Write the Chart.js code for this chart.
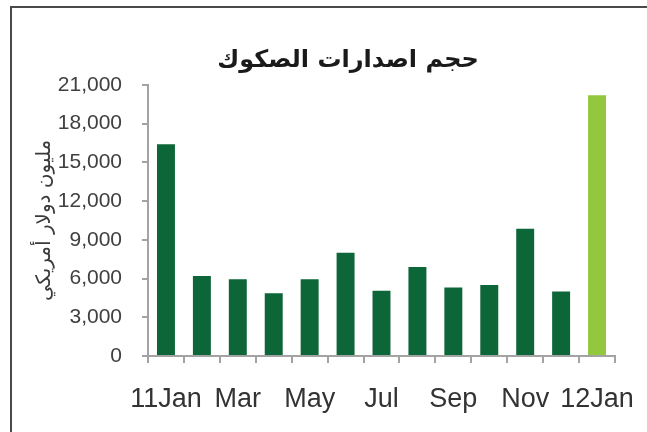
<!DOCTYPE html>
<html><head><meta charset="utf-8">
<script src="https://cdn.jsdelivr.net/npm/chart.js@4"></script>
<style>
html,body{margin:0;padding:0;background:#fff;}
#wrap{position:relative;width:647px;height:432px;overflow:hidden;background:#fff;}
#frame{position:absolute;left:10px;top:6px;right:-10px;bottom:-10px;border-left:2px solid #4a4a4a;border-top:2px solid #4a4a4a;}
canvas{position:absolute;left:0;top:0;}
</style></head><body>
<div id="wrap"><div id="frame"></div><canvas id="c" width="647" height="432"></canvas></div>
<script>
const chartTitle = 'حجم اصدارات الصكوك';
const yAxisTitle = 'مليون دولار أمريكي';
const months = ['11Jan','Feb','Mar','Apr','May','Jun','Jul','Aug','Sep','Oct','Nov','Dec','12Jan'];
const issuance = [16400, 6200, 5950, 4850, 5950, 8000, 5050, 6900, 5300, 5500, 9850, 5000, 20200];
const yMin = 0, yMax = 21000, yStep = 3000;

const darkGreen = '#0d6638';
const lightGreen = '#93c83e';
const axisGray = '#a3a3a3';

new Chart(document.getElementById('c'), {
  type: 'bar',
  data: {
    labels: months,
    datasets: [{
      data: issuance,
      yAxisID: 'y',
      backgroundColor: (ctx) => ctx.dataIndex === issuance.length - 1 ? lightGreen : darkGreen,
      categoryPercentage: 1,
      barPercentage: 0.5,
      borderWidth: 0
    }]
  },
  options: {
    responsive: false,
    devicePixelRatio: 1,
    animation: false,
    layout: { padding: { left: 50, right: 1, top: 0, bottom: 0 } },
    plugins: {
      legend: { display: false },
      tooltip: { enabled: false },
      title: {
        display: true,
        text: chartTitle,
        color: '#1a1a1a',
        font: { family: 'DejaVu Sans', size: 24, weight: 'bold' },
        padding: { top: 46, bottom: 10 }
      }
    },
    scales: {
      x: {
        offset: true,
        afterFit: (scale) => { scale.height = 76; },
        grid: { display: true, drawOnChartArea: false, drawTicks: true, tickLength: 7, color: axisGray, lineWidth: 2, offset: true },
        border: { display: true, color: axisGray, width: 2 },
        ticks: {
          autoSkip: false,
          maxRotation: 0,
          minRotation: 0,
          padding: 10,
          color: '#333333',
          font: { family: 'Liberation Sans', size: 27, lineHeight: 2 },
          callback: (v, i) => (i % 2 === 0 ? months[i] : '')
        }
      },
      y: {
        position: 'left',
        min: yMin,
        max: yMax,
        afterFit: (scale) => { scale.width = 98; },
        grid: { display: true, drawOnChartArea: false, drawTicks: true, tickLength: 6, color: axisGray, lineWidth: 2 },
        border: { display: true, color: axisGray, width: 2 },
        ticks: {
          stepSize: yStep,
          padding: 20,
          color: '#404040',
          font: { family: 'Liberation Sans', size: 21 },
          callback: (v) => Number(v).toLocaleString('en-US')
        },
        title: {
          display: true,
          text: yAxisTitle,
          color: '#3a3a3a',
          font: { family: 'DejaVu Sans', size: 20 },
          padding: { top: -17, bottom: 0 }
        }
      },
      yRight: {
        type: 'linear',
        position: 'right',
        display: true,
        afterFit: (scale) => { scale.width = 31; },
        grid: { display: false },
        border: { display: false },
        ticks: { display: false }
      }
    }
  }
});
</script>
</body></html>
